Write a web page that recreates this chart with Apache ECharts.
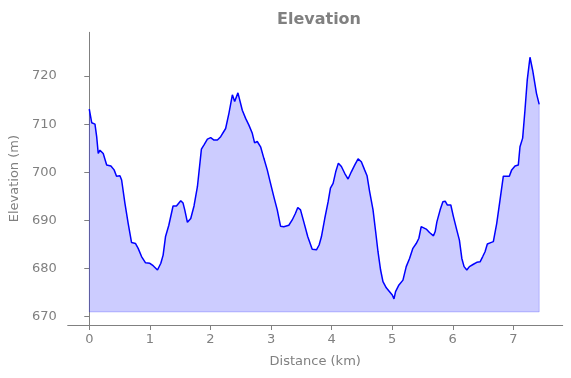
<!DOCTYPE html>
<html>
<head>
<meta charset="utf-8">
<script src="https://cdn.jsdelivr.net/npm/echarts@6/dist/echarts.min.js"></script>
<style>
  html, body { margin: 0; padding: 0; background: #fff; }
  #chart { width: 571px; height: 378px; }
</style>
</head>
<body>
<div id="chart"></div>
<script>
// distance along the track (km)
const distance = [
  0.00, 0.04, 0.094, 0.122, 0.148, 0.176, 0.23, 0.287, 0.357, 0.41,
  0.45, 0.506, 0.534, 0.588, 0.642, 0.698, 0.764, 0.807, 0.863, 0.929,
  1.0, 1.054, 1.126, 1.181, 1.219, 1.258, 1.313, 1.383, 1.439, 1.51,
  1.548, 1.576, 1.62, 1.675, 1.729, 1.785, 1.851, 1.894, 1.95, 2.004,
  2.059, 2.115, 2.169, 2.251, 2.306, 2.362, 2.4, 2.454, 2.487, 2.526,
  2.581, 2.635, 2.691, 2.729, 2.773, 2.828, 2.882, 2.938, 2.992, 3.047,
  3.103, 3.157, 3.211, 3.294, 3.35, 3.404, 3.442, 3.487, 3.541, 3.607,
  3.68, 3.75, 3.794, 3.832, 3.887, 3.943, 3.981, 4.025, 4.068, 4.112,
  4.162, 4.216, 4.272, 4.326, 4.381, 4.437, 4.491, 4.545, 4.585, 4.628,
  4.684, 4.727, 4.766, 4.809, 4.848, 4.903, 4.957, 5.002, 5.03, 5.056,
  5.112, 5.178, 5.232, 5.287, 5.342, 5.397, 5.441, 5.479, 5.507, 5.562,
  5.616, 5.682, 5.71, 5.738, 5.792, 5.837, 5.875, 5.912, 5.968, 6.011,
  6.067, 6.11, 6.15, 6.187, 6.232, 6.275, 6.341, 6.397, 6.451, 6.495,
  6.533, 6.571, 6.627, 6.67, 6.726, 6.78, 6.835, 6.891, 6.934, 6.973,
  7.028, 7.082, 7.11, 7.154, 7.192, 7.23, 7.275, 7.319, 7.382, 7.427
]
// elevation (m)
const elevation = [
  713.1, 710.3, 710.0, 707.4, 703.9, 704.6, 703.9, 701.5, 701.3, 700.5,
  699.2, 699.3, 698.4, 693.6, 689.4, 685.4, 685.2, 684.2, 682.5, 681.2,
  681.1, 680.6, 679.7, 681.1, 682.8, 686.6, 689.0, 693.0, 693.0, 694.1,
  693.6, 692.2, 689.6, 690.4, 693.0, 697.0, 704.8, 705.7, 706.9, 707.2,
  706.7, 706.7, 707.4, 709.1, 712.3, 716.1, 714.7, 716.5, 716.3, 712.9,
  711.2, 709.8, 708.1, 706.1, 706.4, 705.3, 702.9, 700.5, 697.7, 694.9,
  692.2, 688.8, 688.7, 689.0, 690.1, 691.5, 692.7, 692.2, 689.7, 686.6,
  684.0, 683.9, 684.9, 686.6, 690.4, 693.9, 696.7, 697.7, 700.1, 701.9,
  701.2, 699.8, 698.6, 700.1, 701.5, 702.8, 702.2, 700.5, 699.3, 696.0,
  692.2, 687.7, 683.5, 679.7, 677.3, 676.0, 675.2, 674.5, 673.7, 675.2,
  676.6, 677.6, 680.4, 682.1, 684.2, 685.2, 686.3, 688.7, 688.4, 688.2,
  687.5, 686.8, 687.7, 689.7, 692.2, 693.9, 694.0, 693.2, 693.2, 690.8,
  688.0, 685.9, 682.1, 680.4, 679.7, 680.4, 680.9, 681.3, 681.4, 682.5,
  683.5, 685.1, 685.4, 685.6, 689.4, 694.2, 699.2, 699.2, 699.2, 700.5,
  701.3, 701.5, 705.3, 707.1, 712.9, 719.2, 723.9, 721.2, 716.4, 714.1
]
const fillBase = 671
const xTicks = [0, 1, 2, 3, 4, 5, 6, 7]
const yTicks = [670, 680, 690, 700, 710, 720]

const grey = '#808080'
const font = 'DejaVu Sans'

const profile = distance.map((d, i) => [d, elevation[i]])
const last = distance.length - 1
// outline of the filled region (sides and bottom)
const outline = [
  [distance[0], elevation[0]],
  [distance[0], fillBase],
  [distance[last], fillBase],
  [distance[last], elevation[last]]
]

const chart = echarts.init(document.getElementById('chart'), null, { renderer: 'canvas' })
chart.setOption({
  animation: false,
  backgroundColor: '#fff',
  title: {
    text: 'Elevation',
    left: 314,
    top: 7,
    textAlign: 'center',
    textStyle: { color: grey, fontFamily: font, fontWeight: 'bold', fontSize: 16 }
  },
  grid: { left: 66.7, right: 8.3, top: 32.3, bottom: 53 },
  xAxis: {
    type: 'value',
    min: -0.356,
    max: 7.815,
    name: 'Distance (km)',
    nameLocation: 'middle',
    nameGap: 30,
    nameTextStyle: { color: grey, fontFamily: font, fontSize: 13 },
    axisLine: { show: true, lineStyle: { color: grey, width: 1 } },
    axisTick: { show: true, length: 5, lineStyle: { color: grey }, customValues: xTicks },
    axisLabel: { color: grey, fontFamily: font, fontSize: 13, margin: 8, customValues: xTicks },
    splitLine: { show: false }
  },
  yAxis: {
    type: 'value',
    min: 668.28,
    max: 729.08,
    name: 'Elevation (m)',
    nameLocation: 'middle',
    nameGap: 42,
    nameTextStyle: { color: grey, fontFamily: font, fontSize: 13 },
    axisLine: { show: true, lineStyle: { color: grey, width: 1 } },
    axisTick: { show: true, length: 5, lineStyle: { color: grey }, customValues: yTicks },
    axisLabel: { color: grey, fontFamily: font, fontSize: 13, margin: 11, customValues: yTicks },
    splitLine: { show: false }
  },
  series: [{
    name: 'fill',
    type: 'line',
    data: profile,
    showSymbol: false,
    silent: true,
    lineStyle: { width: 0, opacity: 0 },
    areaStyle: { color: 'rgba(0,0,255,0.2)', opacity: 1, origin: fillBase },
    z: 1
  }, {
    name: 'edge',
    type: 'line',
    data: outline,
    showSymbol: false,
    silent: true,
    lineStyle: { color: 'rgba(0,0,255,0.2)', width: 1 },
    z: 2
  }, {
    name: 'elevation',
    type: 'line',
    data: profile,
    showSymbol: false,
    lineStyle: { color: '#0000ff', width: 1.5 },
    z: 3
  }]
})
</script>
</body>
</html>
